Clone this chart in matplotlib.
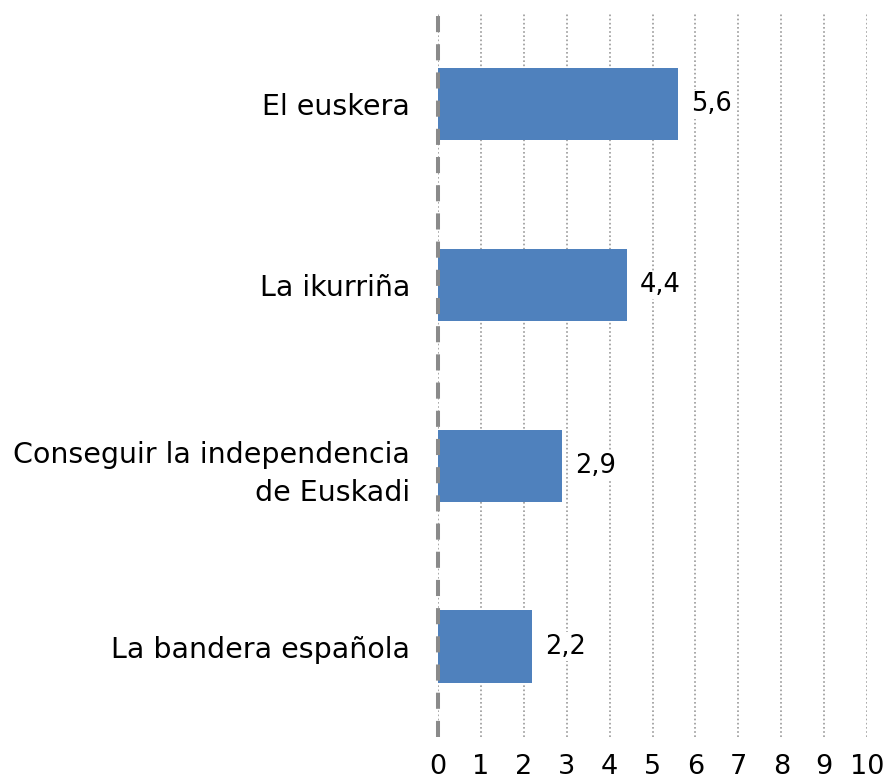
import matplotlib.pyplot as plt

# data
categorias = ['El euskera', 'La ikurriña', 'Conseguir la independencia\nde Euskadi', 'La bandera española']
valores = [5.6, 4.4, 2.9, 2.2]
etiquetas = ['5,6', '4,4', '2,9', '2,2']
ticks_x = list(range(0, 11))

plt.rcParams['font.family'] = ['DejaVu Sans']

fig = plt.figure(figsize=(8.83, 7.81), dpi=100)
ax = fig.add_axes([0.496, 0.0563, 0.486, 0.926])

ypos = list(range(len(categorias)))
ax.barh(ypos, valores, height=0.4, color='#4F81BD', zorder=2)

for y, v, t in zip(ypos, valores, etiquetas):
    ax.text(v + 0.3, y, t, va='center', ha='left', fontsize=18.5, zorder=3,
            bbox=dict(facecolor='white', edgecolor='none', pad=1))

ax.set_xlim(0, 10)
ax.set_ylim(3.5, -0.5)
ax.set_xticks(ticks_x)
ax.set_yticks(ypos)
ax.set_yticklabels(categorias, fontsize=20.5, linespacing=1.45)
ax.tick_params(axis='x', length=0, pad=12, labelsize=19.5)
ax.tick_params(axis='y', length=0, pad=20)

ax.xaxis.grid(True, linestyle=(0, (1, 1.5)), color='#9a9a9a', linewidth=1.2, zorder=0)
for s in ax.spines.values():
    s.set_visible(False)
ax.axvline(0, color='#8a8a8a', linewidth=2.9, linestyle=(0, (4, 3)), zorder=4, clip_on=False)

fig.savefig('out.png', dpi=100)
